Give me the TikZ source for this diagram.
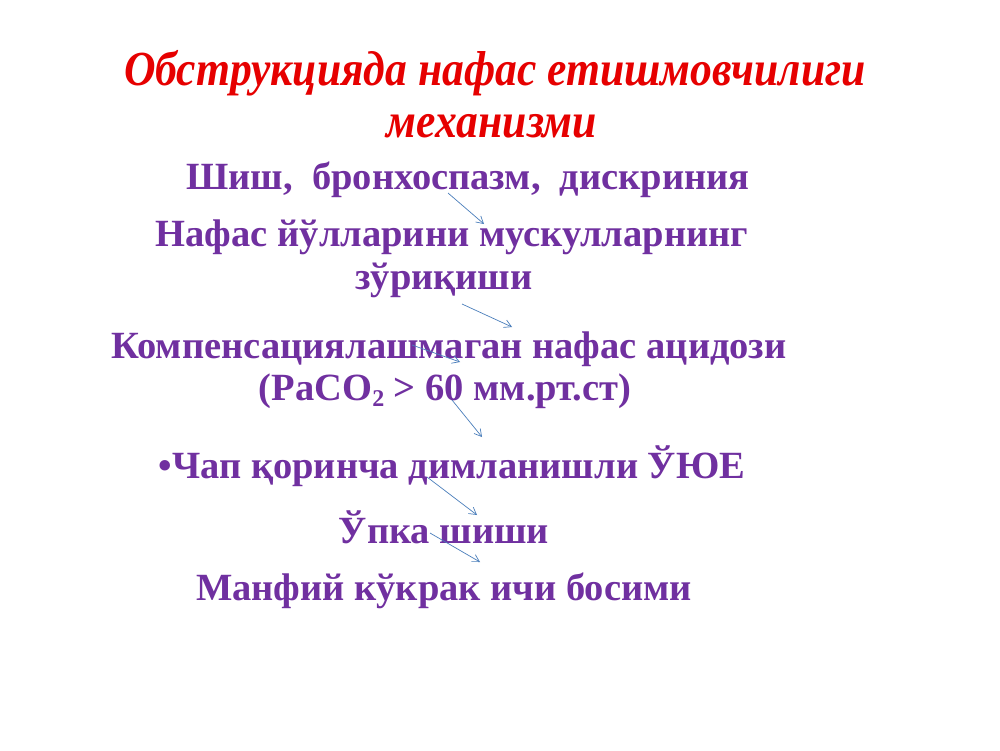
\documentclass[tikz,border=0pt]{standalone}
\usepackage{fontspec}
\setmainfont{Liberation Serif}
\usetikzlibrary{arrows.meta}
\definecolor{titlered}{RGB}{230,0,0}
\definecolor{textpurple}{RGB}{112,48,160}
\definecolor{arrowblue}{RGB}{74,126,187}

\begin{document}
\begin{tikzpicture}[x=1pt,y=-1pt,
	heading/.style={text=titlered,font=\fontsize{49}{49}\selectfont\bfseries\itshape,xscale=0.89,inner sep=0pt},
	body/.style={text=textpurple,font=\fontsize{38.5}{38.5}\selectfont\bfseries,inner sep=0pt},
	link/.style={-{Straight Barb[length=7pt,width=8pt]},draw=arrowblue,line width=0.7pt}]
	\useasboundingbox[fill=white] (0,0) rectangle (1000,750);
	% title
	\node[heading] (t_1) at (495,73) {Обструкцияда нафас етишмовчилиги};
	\node[heading] (t_2) at (492,126) {механизми};
	% chain of steps
	\node[body] (s_1) at (468,180) {Шиш,\ \ бронхоспазм,\ \ дискриния};
	\node[body] (s_2) at (452,237) {Нафас йўлларини мускулларнинг};
	\node[body] (s_3) at (444,280) {зўриқиши};
	\node[body] (s_4) at (449,349) {Компенсациялашмаган нафас ацидози};
	\node[body] (s_5) at (445,391) {(PaCO\raisebox{-0.35ex}{\fontsize{24}{24}\selectfont 2} > 60 мм.рт.ст)};
	\node[body] (s_6) at (452,466) {•Чап қоринча димланишли ЎЮЕ};
	\node[body] (s_7) at (444,527) {Ўпка шиши};
	\node[body] (s_8) at (444,591) {Манфий кўкрак ичи босими};
	% arrow ends
	\coordinate (a_1) at (448,193); \coordinate (b_1) at (484,224);
	\coordinate (a_2) at (462,304); \coordinate (b_2) at (512,327);
	\coordinate (a_3) at (412,345); \coordinate (b_3) at (460,362);
	\coordinate (a_4) at (452,400); \coordinate (b_4) at (482,437);
	\coordinate (a_5) at (427,477); \coordinate (b_5) at (477,515);
	\coordinate (a_6) at (430,533); \coordinate (b_6) at (480,562);
	\foreach \i in {1,...,6}
		\draw[link] (a_\i) -- (b_\i);
\end{tikzpicture}
\end{document}
